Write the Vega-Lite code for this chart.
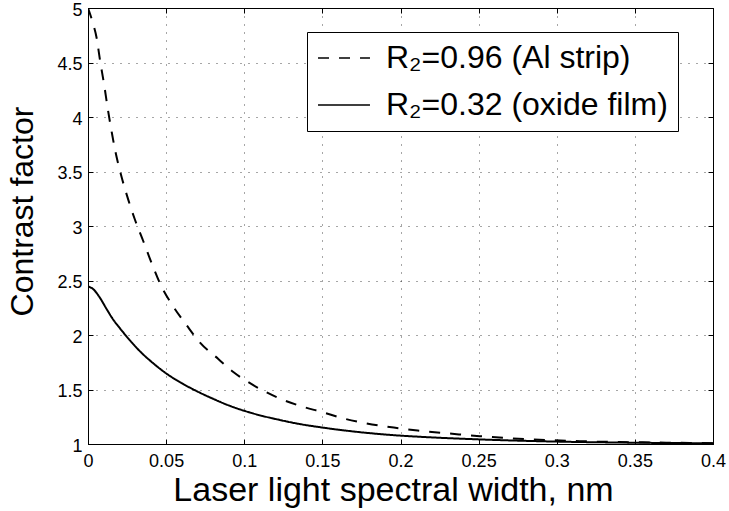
{
  "$schema": "https://vega.github.io/schema/vega-lite/v6.json",
  "width": 625,
  "height": 436,
  "autosize": "none",
  "padding": {"left": 88, "top": 8, "right": 16, "bottom": 67},
  "background": "#ffffff",
  "datasets": {
    "curves": [
      {"x": 0, "y": 5.0, "series": "R₂=0.96 (Al strip)"},
      {"x": 0.0028, "y": 4.877, "series": "R₂=0.96 (Al strip)"},
      {"x": 0.0056, "y": 4.72, "series": "R₂=0.96 (Al strip)"},
      {"x": 0.0077, "y": 4.52, "series": "R₂=0.96 (Al strip)"},
      {"x": 0.0104, "y": 4.29, "series": "R₂=0.96 (Al strip)"},
      {"x": 0.0126, "y": 4.08, "series": "R₂=0.96 (Al strip)"},
      {"x": 0.0152, "y": 3.86, "series": "R₂=0.96 (Al strip)"},
      {"x": 0.0173, "y": 3.70, "series": "R₂=0.96 (Al strip)"},
      {"x": 0.0215, "y": 3.45, "series": "R₂=0.96 (Al strip)"},
      {"x": 0.0258, "y": 3.24, "series": "R₂=0.96 (Al strip)"},
      {"x": 0.030, "y": 3.06, "series": "R₂=0.96 (Al strip)"},
      {"x": 0.0354, "y": 2.86, "series": "R₂=0.96 (Al strip)"},
      {"x": 0.0407, "y": 2.66, "series": "R₂=0.96 (Al strip)"},
      {"x": 0.0465, "y": 2.46, "series": "R₂=0.96 (Al strip)"},
      {"x": 0.0546, "y": 2.26, "series": "R₂=0.96 (Al strip)"},
      {"x": 0.0631, "y": 2.09, "series": "R₂=0.96 (Al strip)"},
      {"x": 0.0717, "y": 1.93, "series": "R₂=0.96 (Al strip)"},
      {"x": 0.0834, "y": 1.78, "series": "R₂=0.96 (Al strip)"},
      {"x": 0.093, "y": 1.66, "series": "R₂=0.96 (Al strip)"},
      {"x": 0.1058, "y": 1.54, "series": "R₂=0.96 (Al strip)"},
      {"x": 0.1207, "y": 1.43, "series": "R₂=0.96 (Al strip)"},
      {"x": 0.1356, "y": 1.35, "series": "R₂=0.96 (Al strip)"},
      {"x": 0.1505, "y": 1.29, "series": "R₂=0.96 (Al strip)"},
      {"x": 0.1633, "y": 1.235, "series": "R₂=0.96 (Al strip)"},
      {"x": 0.178, "y": 1.19, "series": "R₂=0.96 (Al strip)"},
      {"x": 0.193, "y": 1.155, "series": "R₂=0.96 (Al strip)"},
      {"x": 0.2124, "y": 1.122, "series": "R₂=0.96 (Al strip)"},
      {"x": 0.236, "y": 1.09, "series": "R₂=0.96 (Al strip)"},
      {"x": 0.2508, "y": 1.072, "series": "R₂=0.96 (Al strip)"},
      {"x": 0.2657, "y": 1.057, "series": "R₂=0.96 (Al strip)"},
      {"x": 0.2807, "y": 1.044, "series": "R₂=0.96 (Al strip)"},
      {"x": 0.2956, "y": 1.035, "series": "R₂=0.96 (Al strip)"},
      {"x": 0.31, "y": 1.028, "series": "R₂=0.96 (Al strip)"},
      {"x": 0.325, "y": 1.022, "series": "R₂=0.96 (Al strip)"},
      {"x": 0.34, "y": 1.018, "series": "R₂=0.96 (Al strip)"},
      {"x": 0.355, "y": 1.015, "series": "R₂=0.96 (Al strip)"},
      {"x": 0.37, "y": 1.012, "series": "R₂=0.96 (Al strip)"},
      {"x": 0.385, "y": 1.01, "series": "R₂=0.96 (Al strip)"},
      {"x": 0.4, "y": 1.008, "series": "R₂=0.96 (Al strip)"},
      {"x": 0, "y": 2.446, "series": "R₂=0.32 (oxide film)"},
      {"x": 0.0034, "y": 2.42, "series": "R₂=0.32 (oxide film)"},
      {"x": 0.0077, "y": 2.34, "series": "R₂=0.32 (oxide film)"},
      {"x": 0.012, "y": 2.236, "series": "R₂=0.32 (oxide film)"},
      {"x": 0.0162, "y": 2.14, "series": "R₂=0.32 (oxide film)"},
      {"x": 0.0205, "y": 2.06, "series": "R₂=0.32 (oxide film)"},
      {"x": 0.0269, "y": 1.95, "series": "R₂=0.32 (oxide film)"},
      {"x": 0.0333, "y": 1.85, "series": "R₂=0.32 (oxide film)"},
      {"x": 0.0418, "y": 1.74, "series": "R₂=0.32 (oxide film)"},
      {"x": 0.0503, "y": 1.645, "series": "R₂=0.32 (oxide film)"},
      {"x": 0.061, "y": 1.55, "series": "R₂=0.32 (oxide film)"},
      {"x": 0.0717, "y": 1.47, "series": "R₂=0.32 (oxide film)"},
      {"x": 0.08, "y": 1.415, "series": "R₂=0.32 (oxide film)"},
      {"x": 0.0908, "y": 1.35, "series": "R₂=0.32 (oxide film)"},
      {"x": 0.1058, "y": 1.28, "series": "R₂=0.32 (oxide film)"},
      {"x": 0.1207, "y": 1.227, "series": "R₂=0.32 (oxide film)"},
      {"x": 0.1356, "y": 1.183, "series": "R₂=0.32 (oxide film)"},
      {"x": 0.1505, "y": 1.15, "series": "R₂=0.32 (oxide film)"},
      {"x": 0.1655, "y": 1.122, "series": "R₂=0.32 (oxide film)"},
      {"x": 0.18, "y": 1.1, "series": "R₂=0.32 (oxide film)"},
      {"x": 0.1975, "y": 1.079, "series": "R₂=0.32 (oxide film)"},
      {"x": 0.2167, "y": 1.063, "series": "R₂=0.32 (oxide film)"},
      {"x": 0.2508, "y": 1.042, "series": "R₂=0.32 (oxide film)"},
      {"x": 0.3, "y": 1.022, "series": "R₂=0.32 (oxide film)"},
      {"x": 0.349, "y": 1.012, "series": "R₂=0.32 (oxide film)"},
      {"x": 0.4, "y": 1.006, "series": "R₂=0.32 (oxide film)"}
    ]
  },
  "data": {"name": "curves"},
  "layer": [
    {
      "mark": {"type": "line", "color": "#000000", "strokeWidth": 2, "clip": true, "interpolate": "monotone"},
      "encoding": {
        "x": {
          "field": "x", "type": "quantitative",
          "scale": {"domain": [0, 0.4], "nice": false, "zero": false},
          "axis": {
            "orient": "bottom",
            "values": [0, 0.05, 0.1, 0.15, 0.2, 0.25, 0.3, 0.35, 0.4],
            "format": "~g",
            "title": "Laser light spectral width, nm",
            "titleFontSize": 34,
            "titlePadding": 3,
            "titleX": 305,
            "labelFontSize": 18,
            "labelPadding": 13,
            "tickSize": -5,
            "labelBound": false,
            "labelFlush": false,
            "labelOverlap": false
          }
        },
        "y": {
          "field": "y", "type": "quantitative",
          "scale": {"domain": [1, 5], "nice": false, "zero": false},
          "axis": {
            "orient": "left",
            "values": [1, 1.5, 2, 2.5, 3, 3.5, 4, 4.5, 5],
            "format": "~g",
            "title": "Contrast factor",
            "titleFontSize": 32,
            "titlePadding": 17,
            "titleY": 203,
            "labelFontSize": 18,
            "labelPadding": 11,
            "labelOffset": 2,
            "tickSize": -5,
            "labelBound": false,
            "labelFlush": false,
            "labelOverlap": false
          }
        },
        "strokeDash": {
          "field": "series", "type": "nominal",
          "scale": {
            "domain": ["R₂=0.96 (Al strip)", "R₂=0.32 (oxide film)"],
            "range": [[11, 10], [1, 0]]
          },
          "legend": {
            "orient": "none",
            "legendX": 219,
            "legendY": 24,
            "title": null,
            "symbolType": "stroke",
            "symbolSize": 2700,
            "symbolStrokeWidth": 1.5,
            "symbolStrokeColor": "#000000",
            "clipHeight": 32,
            "labelFontSize": 32,
            "labelFont": "Liberation Sans",
            "labelColor": "#000000",
            "labelOffset": 15,
            "rowPadding": 15,
            "padding": 10,
            "strokeColor": "#000000",
            "fillColor": "#ffffff",
            "labelLimit": 400
          }
        }
      }
    },
    {
      "mark": {"type": "line", "opacity": 0},
      "encoding": {
        "x": {
          "field": "x", "type": "quantitative",
          "scale": {"domain": [0, 0.4], "nice": false, "zero": false},
          "axis": {
            "orient": "top", "values": [0, 0.05, 0.1, 0.15, 0.2, 0.25, 0.3, 0.35, 0.4],
            "labels": false, "title": null, "grid": false, "domain": false, "tickSize": -5
          }
        },
        "y": {
          "field": "y", "type": "quantitative",
          "scale": {"domain": [1, 5], "nice": false, "zero": false},
          "axis": {
            "orient": "right", "values": [1, 1.5, 2, 2.5, 3, 3.5, 4, 4.5, 5],
            "labels": false, "title": null, "grid": false, "domain": false, "tickSize": -5
          }
        },
        "detail": {"field": "series", "type": "nominal"}
      }
    }
  ],
  "resolve": {"axis": {"x": "independent", "y": "independent"}},
  "config": {
    "font": "Liberation Sans",
    "view": {"stroke": "#000000", "strokeWidth": 1},
    "axis": {
      "domainColor": "#000000",
      "domainWidth": 1,
      "tickColor": "#000000",
      "tickWidth": 1,
      "labelColor": "#000000",
      "titleColor": "#000000",
      "labelFont": "Liberation Sans",
      "titleFont": "Liberation Sans",
      "titleFontWeight": "normal",
      "grid": true,
      "gridColor": "#000000",
      "gridOpacity": 0.7,
      "gridDash": [1, 7],
      "gridWidth": 1
    }
  }
}
